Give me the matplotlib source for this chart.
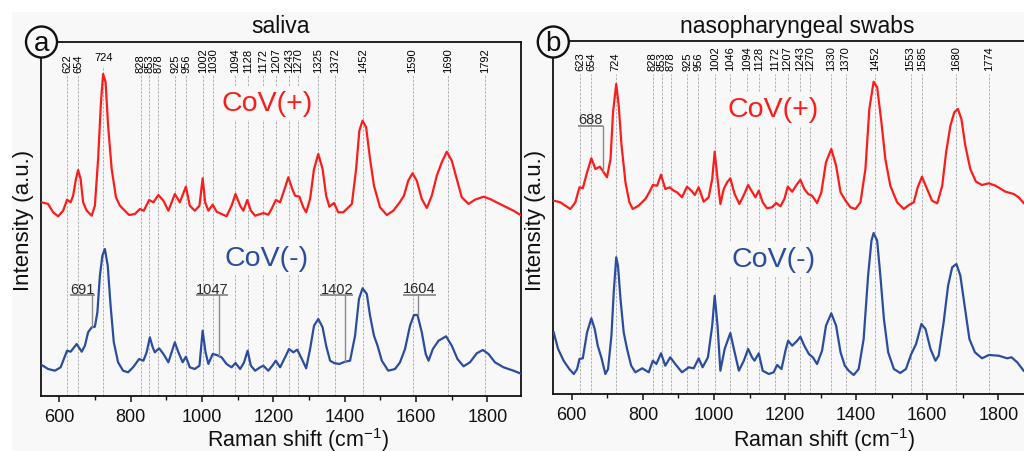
import numpy as np
import matplotlib
matplotlib.use('Agg')
import matplotlib.pyplot as plt
from matplotlib.patches import Ellipse, Rectangle
import matplotlib.transforms as mtransforms
from matplotlib.ticker import MultipleLocator

plt.rcParams['font.family'] = ['Liberation Sans', 'DejaVu Sans']
plt.rcParams['mathtext.default'] = 'regular'

# ---------------- data (Raman shift in cm^-1, intensity in a.u.) ----------------
a_pos_x = [551, 569, 583, 597, 611, 622, 632, 639, 647, 653, 660, 667, 677, 691, 700, 709, 717, 723, 730,
           737, 747, 759, 770, 784, 796, 812, 826, 837, 852, 864, 878, 892, 906, 924, 938, 955, 966, 980,
           993, 1002, 1009, 1018, 1030, 1041, 1055, 1069, 1083, 1094, 1107, 1116, 1127, 1137, 1149, 1172,
           1186, 1195, 1207, 1219, 1230, 1242, 1253, 1261, 1273, 1284, 1292, 1303, 1314, 1326, 1338, 1348,
           1357, 1370, 1382, 1396, 1420, 1432, 1441, 1450, 1460, 1471, 1482, 1499, 1518, 1536, 1553, 1566,
           1578, 1590, 1602, 1616, 1630, 1644, 1658, 1672, 1686, 1700, 1714, 1728, 1747, 1765, 1789, 1807,
           1835, 1873, 1896]
a_pos_y = [193.7, 192, 183.7, 179.7, 185.3, 196.3, 193.7, 200.3, 217, 226, 217, 193.7, 185.3, 180.3, 190.3,
           237, 293.7, 322, 313.7, 270.3, 227, 198.7, 190.3, 185.3, 181, 182, 187, 185.3, 196, 193.7, 201,
           195.3, 185.3, 202, 193.7, 209.3, 190.3, 185.3, 190.3, 217.7, 193.7, 185.3, 191.3, 184.3, 182,
           179.7, 190.3, 202, 190.3, 185.3, 196, 185.3, 180.3, 183, 181.3, 187, 196, 193.7, 205.3, 218.7,
           207, 200.3, 199.3, 188.7, 183.7, 197, 227, 242, 227, 200.3, 189.3, 193, 183.7, 183.7, 192, 227,
           265.3, 275.3, 268.7, 237, 210.3, 188.7, 181, 185.3, 193, 200.3, 215.3, 222.7, 215.3, 197, 188,
           200.3, 220.3, 233.7, 244.3, 235.3, 217, 198.7, 192, 196.3, 199.3, 197, 192, 185.3, 180.3]

a_neg_x = [551, 569, 588, 604, 613, 622, 632, 649, 663, 672, 681, 691, 700, 707, 714, 721, 728, 736, 744,
           753, 765, 779, 793, 807, 824, 836, 845, 854, 862, 868, 880, 892, 906, 918, 924, 934, 946, 955,
           966, 980, 993, 1002, 1010, 1018, 1030, 1041, 1055, 1069, 1083, 1094, 1107, 1118, 1128, 1137,
           1149, 1163, 1172, 1186, 1197, 1207, 1219, 1233, 1244, 1256, 1267, 1280, 1292, 1303, 1314, 1326,
           1338, 1348, 1359, 1370, 1385, 1401, 1415, 1429, 1440, 1450, 1462, 1471, 1482, 1492, 1504, 1522,
           1541, 1555, 1569, 1583, 1594, 1604, 1616, 1627, 1635, 1647, 1663, 1684, 1700, 1716, 1733, 1751,
           1770, 1787, 1803, 1821, 1845, 1873, 1896]
a_neg_y = [31, 27, 25.3, 28.7, 37, 45.3, 44.3, 52, 44.3, 50.3, 63.7, 68.7, 69.3, 83.7, 120.3, 140.3, 147,
           130.3, 90.3, 53.7, 33.7, 25.3, 23.7, 28.7, 37, 35.3, 43.7, 58.7, 48.7, 43.7, 47.7, 42, 33.7, 47,
           53.7, 43.7, 33.7, 39.3, 28.7, 27, 30.3, 65.3, 43.7, 32, 42, 41, 38.7, 32, 28.7, 33, 27, 33.7,
           45.3, 30.3, 25.3, 28.7, 30.3, 25.3, 30.3, 35.3, 28.7, 38.7, 47, 43.7, 46.3, 37, 27.7, 47, 70.3,
           77, 68.7, 50.3, 35.3, 33, 32, 34.3, 35.3, 60.3, 97, 107.7, 102, 80.3, 60.3, 50.3, 35.3, 25.3,
           27, 33.7, 47, 70.3, 81, 81, 63.7, 42, 35.3, 47, 55.3, 59.7, 50.3, 37, 29.7, 33.7, 42.7, 46, 42,
           33.7, 28.7, 25.3, 22]

b_pos_x = [549, 568, 582, 596, 610, 621.5, 631, 643, 655, 666.5, 679, 690, 699, 709, 716, 725, 732, 740,
           751, 762, 771.5, 788, 807, 818, 828, 840, 851, 863, 875, 887, 896, 910, 924, 936.5, 946, 957,
           971, 985, 995, 1002, 1010, 1018, 1027.5, 1037, 1046, 1058, 1071.5, 1084, 1096, 1107, 1116.5,
           1126, 1137, 1149, 1163, 1175, 1187, 1198, 1207.5, 1220, 1232, 1243, 1254, 1265, 1276, 1290,
           1302, 1315, 1330, 1343.5, 1356, 1370, 1384, 1398, 1412, 1426, 1437, 1449, 1459, 1471, 1482,
           1496, 1515, 1534, 1548, 1562, 1573, 1585, 1599.5, 1613.5, 1628, 1642, 1653, 1665, 1676, 1686,
           1696, 1707, 1721, 1737, 1754, 1773, 1792, 1820, 1843, 1857, 1871]
b_pos_y = [193.3, 191.7, 188.3, 185, 191.7, 206.7, 205.7, 221.7, 235.7, 225, 227.3, 221.7, 216.7, 235,
           281.7, 310, 288.3, 248.3, 211.7, 191.7, 185, 188.3, 195, 201.7, 209, 208.3, 219.3, 205, 206.7,
           203.3, 201.7, 196.7, 207.3, 203.3, 199, 206.7, 192.3, 196.7, 215, 242.3, 215, 190, 205, 211.7,
           215.7, 200, 190, 199, 209, 202.3, 196.7, 203.3, 191.7, 185.7, 186.7, 191, 187.7, 195, 207.3,
           202.3, 209, 214.3, 205, 200, 198.3, 191, 201.7, 231.7, 245, 228.3, 201.7, 193.3, 186.7, 185,
           191.7, 225, 285, 312.3, 306.7, 271.7, 235, 208.3, 191.7, 185, 189, 191.7, 206.7, 217.3, 205,
           193.3, 190.7, 208.3, 241.7, 268.3, 281.7, 285, 275, 248.3, 225, 212.3, 209, 210.7, 208.3, 202.3,
           200, 196.7, 191]

b_neg_x = [549, 561.5, 577, 593, 605.5, 615, 621.5, 631, 643, 655, 664.5, 673, 683, 694.5, 702, 711.5, 718,
           725, 730, 737, 746, 755.5, 767, 779, 798, 816.5, 828, 838, 851, 863, 877, 891, 910, 929, 943,
           957, 968, 983, 995, 1002, 1010, 1018, 1030, 1046, 1056, 1070, 1084, 1096, 1107, 1114, 1126,
           1137, 1154, 1168, 1177.5, 1190, 1201, 1208.5, 1220, 1234, 1243, 1254, 1267, 1278, 1290, 1304,
           1315, 1330, 1343.5, 1356, 1368, 1379, 1393, 1407, 1421, 1433.5, 1443, 1449, 1459, 1468, 1478,
           1490, 1506, 1524, 1540, 1555, 1568.5, 1583.5, 1595, 1609, 1623, 1632, 1646, 1658.5, 1670, 1682,
           1693, 1705, 1718.5, 1734, 1754, 1773, 1801, 1824.5, 1837, 1853, 1871]
b_neg_y = [61.7, 45, 33.3, 25, 20, 25, 35, 35.7, 61.7, 75.7, 65, 48.3, 36.7, 20, 25, 58.3, 101.7, 136.7,
           128.3, 95, 61.7, 45, 28.3, 21.7, 25.7, 21.7, 33.3, 30, 40.7, 28.3, 36.7, 30, 21.7, 26.7, 25.7,
           35.7, 26.7, 36.7, 68.3, 98.3, 68.3, 23.3, 45, 61, 45, 23.3, 33.3, 45, 36.7, 33.3, 40.7, 23.3,
           20, 21.7, 29, 25, 43.3, 53.3, 48.3, 53.3, 57.3, 48.3, 40, 36.7, 30, 43.3, 68.3, 80.7, 68.3,
           41.7, 28.3, 23.3, 19, 25, 55, 118.3, 153.3, 161, 153.3, 118.3, 75, 41.7, 25, 21, 25, 40, 50,
           70, 65, 45, 33.3, 38.3, 71.7, 108.3, 126.7, 130, 118.3, 88.3, 55, 41.7, 35.7, 39, 38.3, 35.7,
           36.7, 31.7, 23.3]

a_peaks = [622, 654, 724, 828, 853, 878, 925, 956, 1002, 1030, 1094, 1128, 1172, 1207, 1243, 1270,
           1325, 1372, 1452, 1590, 1690, 1792]
b_peaks = [623, 654, 724, 828, 853, 878, 925, 956, 1002, 1046, 1094, 1128, 1172, 1207, 1243, 1270,
           1330, 1370, 1452, 1553, 1585, 1680, 1774]

a_marks = [691, 1047, 1402, 1604]
b_marks = [688]

titles = ['saliva', 'nasopharyngeal swabs']
panel_letters = ['a', 'b']
series_names = ['CoV(+)', 'CoV(-)']

# ---------------- style ----------------
W, H = 1024, 452
BG = '#f8f8f8'
RED = '#fb1c1c'
BLUE = '#2b4d9e'
GRID = '#a8a8a8'

fig = plt.figure(figsize=(W / 100, H / 100), dpi=100)
fig.patch.set_facecolor('white')
fig.add_artist(Rectangle((12 / W, 0), 1, 1 - 13 / H, transform=fig.transFigure,
                         facecolor=BG, edgecolor='none', zorder=-10))


def px_axes(left, top, right, bottom):
    return fig.add_axes([left / W, 1 - bottom / H, (right - left) / W, (bottom - top) / H])


axA = px_axes(41, 43, 521, 397)
axB = px_axes(553.3, 42, 553.3 + 478.5, 395)

configs = [
    dict(ax=axA, xlim=(549, 1894), ylim=(0, 354), pos=(a_pos_x, a_pos_y), neg=(a_neg_x, a_neg_y),
         peaks=a_peaks, marks=a_marks, lab_y=0.915, line_top=0.908,
         cov_pos=(1182, 293), cov_neg=(1180, 138.5), show_right=True),
    dict(ax=axB, xlim=(548, 1894), ylim=(0, 353), pos=(b_pos_x, b_pos_y), neg=(b_neg_x, b_neg_y),
         peaks=b_peaks, marks=b_marks, lab_y=0.918, line_top=0.906,
         cov_pos=(1165, 285), cov_neg=(1167, 135), show_right=False),
]

# annotation layout: (text x offset in cm^-1, underline y, spectrum used)
mark_layout = {
    691: (-25, 101, 'neg'), 1047: (-19, 101, 'neg'), 1402: (-24, 101, 'neg'), 1604: (5, 101.5, 'neg'),
    688: (-36, 268.3, 'pos'),
}

for cfg in configs:
    ax = cfg['ax']
    ax.set_facecolor('none')
    ax.set_xlim(*cfg['xlim'])
    ax.set_ylim(*cfg['ylim'])
    ax.set_yticks([])
    for s in ax.spines.values():
        s.set_linewidth(1.3)
        s.set_color('#111111')
    ax.spines['right'].set_visible(cfg['show_right'])
    ax.xaxis.set_major_locator(MultipleLocator(200))
    ax.xaxis.set_minor_locator(MultipleLocator(100))
    ax.tick_params(axis='x', which='major', direction='out', length=4.5, width=1.1,
                   labelsize=13, pad=4.5, colors='#111111')
    ax.tick_params(axis='x', which='minor', direction='out', length=2.8, width=1.0, colors='#111111')
    ax.set_xticks([t for t in range(600, 1801, 200)])

    trans = mtransforms.blended_transform_factory(ax.transData, ax.transAxes)
    for p in cfg['peaks']:
        horizontal = (ax is axA and p == 724)
        top = 0.933 if horizontal else cfg['line_top']
        ax.plot([p, p], [0, top], transform=trans, color=GRID, lw=0.6,
                ls=(0, (3, 1.6)), zorder=1)
        if horizontal:
            ax.text(p, 0.959, str(p), transform=trans, ha='center', va='center', fontsize=8)
        else:
            ax.text(p, cfg['lab_y'], str(p), transform=trans, rotation=90,
                    ha='center', va='bottom', fontsize=8)

    px, py = cfg['pos']
    nx, ny = cfg['neg']
    ax.plot(px, py, color=RED, lw=1.6, zorder=3, solid_joinstyle='round')
    ax.plot(nx, ny, color=BLUE, lw=1.6, zorder=3, solid_joinstyle='round')

    ax.text(*cfg['cov_pos'], series_names[0], color=RED, fontsize=20.5, ha='center', va='center',
            zorder=4, bbox=dict(facecolor=BG, edgecolor='none', pad=3))
    ax.text(*cfg['cov_neg'], series_names[1], color=BLUE, fontsize=20.5, ha='center', va='center',
            zorder=4, bbox=dict(facecolor=BG, edgecolor='none', pad=3))

    for m in cfg['marks']:
        dx, uy, which = mark_layout[m]
        sx, sy = (nx, ny) if which == 'neg' else (px, py)
        end = float(np.interp(m, sx, sy))
        label = str(m)
        half = 35 if len(label) == 3 else 46
        cx = m + dx
        ax.plot([cx - half, cx + half], [uy, uy], color='#8a8a8a', lw=1.3, zorder=5,
                solid_capstyle='butt')
        ax.plot([m, m], [uy, end], color='#8a8a8a', lw=1.0, zorder=5)
        ax.text(cx, uy + 2.3, label, ha='center', va='baseline', fontsize=10.5,
                color='#2a2a2a', zorder=5)

# titles
fig.text(281 / W, 1 - 33 / H, titles[0], ha='center', va='baseline', fontsize=16.5, color='#111111')
fig.text(797 / W, 1 - 33 / H, titles[1], ha='center', va='baseline', fontsize=16.5, color='#111111')

# axis labels
for xc in (24, 535):
    fig.text(xc / W, 1 - 220 / H, 'Intensity (a.u.)', rotation=90, ha='center', va='center',
             fontsize=16, color='#111111')
for xc in (298.5, 824):
    fig.text(xc / W, 1 - 447 / H, 'Raman shift (cm$^{-1}$)', ha='center', va='baseline',
             fontsize=15.5, color='#111111')

# panel letters
for (cx, cy), letter in zip([(41.5, 43), (553.3, 43)], panel_letters):
    fig.add_artist(Ellipse((cx / W, 1 - cy / H), width=31 / W, height=31 / H,
                           transform=fig.transFigure, facecolor=BG, edgecolor='#111111',
                           lw=1.7, zorder=10))
    fig.text(cx / W, 1 - (cy + 1) / H, letter, ha='center', va='center', fontsize=20,
             color='#111111', zorder=11)

fig.savefig('out.png', dpi=100, facecolor=fig.get_facecolor())
